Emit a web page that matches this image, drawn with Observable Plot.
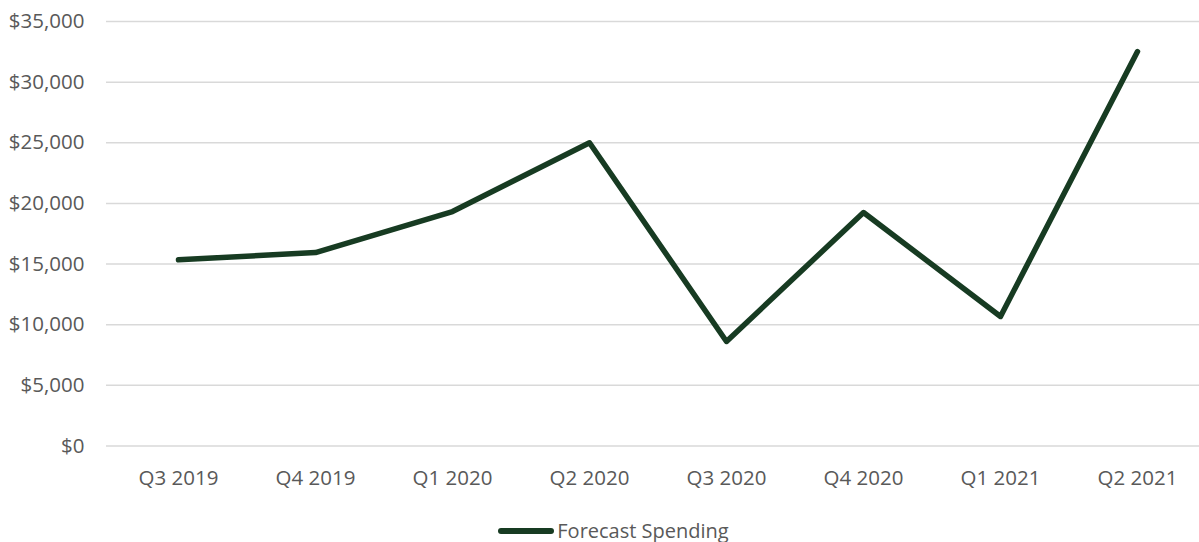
<!DOCTYPE html>
<html>
<head>
<meta charset="utf-8">
<script src="https://cdn.jsdelivr.net/npm/d3@7"></script>
<script src="https://cdn.jsdelivr.net/npm/@observablehq/plot@0.6"></script>
<style>
  body { margin: 0; background: #fff; font-family: "Open Sans", "Noto Sans", sans-serif; overflow: hidden; }
  #chart svg { display: block; }
  #legend { display: flex; align-items: center; justify-content: center; height: 30px; line-height: 30px; color: #595959; font-size: 20px; padding-left: 28px; margin-top: 11px; }
  #legend .sw { width: 56px; height: 6px; border-radius: 3px; background: #173b22; margin-right: 3px; }
</style>
</head>
<body>
<div id="chart"></div>
<div id="legend"><span class="sw"></span><span>Forecast Spending</span></div>
<script>
const quarters = ["Q3 2019", "Q4 2019", "Q1 2020", "Q2 2020", "Q3 2020", "Q4 2020", "Q1 2021", "Q2 2021"];
const spending = [15350, 15950, 19330, 25000, 8620, 19250, 10680, 32520];
const yTicks = [0, 5000, 10000, 15000, 20000, 25000, 30000, 35000];
const seriesName = "Forecast Spending";

const data = quarters.map((q, i) => ({quarter: q, value: spending[i]}));
const fmt = d => "$" + d3.format(",")(d);

const chart = Plot.plot({
  width: 1199,
  height: 505,
  marginLeft: 106,
  marginRight: 0,
  marginTop: 21,
  marginBottom: 59.5,
  style: { fontFamily: "'Open Sans', 'Noto Sans', sans-serif", fontSize: "20.5px", color: "#595959", background: "#fff" },
  x: { type: "point", domain: quarters, range: [106, 1209], padding: 0.5, align: 0.5, label: null },
  y: { domain: [0, 35000], label: null },
  marks: [
    Plot.ruleY(yTicks, { stroke: "#d9d9d9", strokeWidth: 1.5 }),
    Plot.axisX({ tickSize: 0, tickPadding: 24, fontSize: 20.5, fill: "#595959", label: null }),
    Plot.axisY({ ticks: yTicks, tickFormat: fmt, tickSize: 0, tickPadding: 22, fontSize: 20.5, fill: "#595959", label: null }),
    Plot.line(data, { x: "quarter", y: "value", stroke: "#173b22", strokeWidth: 5.5, strokeLinecap: "round", strokeLinejoin: "round" })
  ]
});
document.getElementById("chart").appendChild(chart);
document.querySelector("#legend span:last-child").textContent = seriesName;
</script>
</body>
</html>
